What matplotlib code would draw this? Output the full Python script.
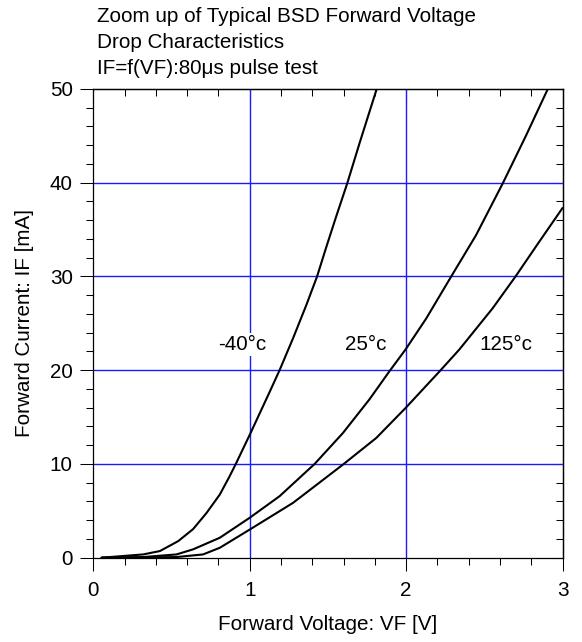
import matplotlib
matplotlib.use("Agg")
import matplotlib.pyplot as plt
from matplotlib.ticker import MultipleLocator

plt.rcParams['font.family'] = ['Liberation Sans', 'DejaVu Sans']

# Data (VF in V, IF in mA)
vf_m40 = [0.053, 0.319, 0.426, 0.543, 0.638, 0.723, 0.809, 0.872, 0.911, 1.0, 1.064, 1.128,
          1.191, 1.277, 1.362, 1.43, 1.489, 1.553, 1.623, 1.702, 1.812]
if_m40 = [0.0, 0.35, 0.71, 1.77, 3.05, 4.75, 6.74, 8.7, 10.0, 13.1, 15.4, 17.7,
          20.0, 23.4, 26.95, 29.96, 33.1, 36.4, 39.9, 44.2, 50.0]

vf_25 = [0.053, 0.319, 0.532, 0.638, 0.809, 1.0, 1.191, 1.415, 1.596, 1.766, 1.894, 1.996,
         2.128, 2.287, 2.447, 2.617, 2.766, 2.906]
if_25 = [0.0, 0.07, 0.35, 0.89, 2.13, 4.26, 6.56, 10.0, 13.3, 16.9, 19.9, 22.2,
         25.5, 29.96, 34.4, 39.9, 45.0, 50.0]

vf_125 = [0.053, 0.532, 0.702, 0.809, 1.0, 1.277, 1.596, 1.809, 1.996, 2.213, 2.34, 2.553,
          2.698, 2.851, 3.0]
if_125 = [0.0, 0.07, 0.35, 1.06, 3.0, 5.85, 9.93, 12.77, 15.96, 19.86, 22.2, 26.6,
          29.96, 33.7, 37.3]

labels = ['-40°c', '25°c', '125°c']
label_x = [0.953, 1.74, 2.638]
label_y = [22.7, 22.7, 22.7]

x_ticks = [0, 1, 2, 3]
y_ticks = [0, 10, 20, 30, 40, 50]

title_lines = ['Zoom up of Typical BSD Forward Voltage',
               'Drop Characteristics',
               'IF=f(VF):80\u03bcs pulse test']

fig = plt.figure(figsize=(5.82, 6.42), dpi=100)
ax = fig.add_axes([0.1603, 0.1313, 0.8062, 0.7301])

ax.set_xlim(0, 3)
ax.set_ylim(0, 50)

# grid
for gx in [1, 2]:
    ax.axvline(gx, color='#1a1aff', lw=1.0, zorder=1)
for gy in [10, 20, 30, 40]:
    ax.axhline(gy, color='#1a1aff', lw=1.0, zorder=1)

for vx, iy in [(vf_m40, if_m40), (vf_25, if_25), (vf_125, if_125)]:
    ax.plot(vx, iy, color='black', lw=1.5, zorder=3, clip_on=True,
            solid_joinstyle='round', solid_capstyle='round')

fs = 14.9
for t, lx, ly in zip(labels, label_x, label_y):
    ax.text(lx, ly, t, ha='center', va='center', fontsize=fs, zorder=2,
            bbox=dict(facecolor='white', edgecolor='none', pad=1.5))

ax.set_xticks(x_ticks)
ax.set_yticks(y_ticks)
ax.xaxis.set_minor_locator(MultipleLocator(0.2))
ax.yaxis.set_minor_locator(MultipleLocator(2))
ax.tick_params(which='major', direction='out', length=9.4, width=0.75, labelsize=fs, top=False, right=False)
ax.tick_params(which='minor', direction='out', length=4.7, width=0.75, top=False, right=False)
ax.tick_params(axis='x', which='major', pad=7.5)
ax.tick_params(axis='y', which='major', pad=5.5)

for s in ax.spines.values():
    s.set_linewidth(0.9)

secx = ax.secondary_xaxis('top')
secx.set_xticks(x_ticks)
secx.xaxis.set_minor_locator(MultipleLocator(0.2))
secx.tick_params(which='major', direction='in', length=9.4, width=0.75, labeltop=False)
secx.tick_params(which='minor', direction='in', length=4.7, width=0.75)
secx.spines['top'].set_linewidth(0.9)

secy = ax.secondary_yaxis('right')
secy.set_yticks(y_ticks)
secy.yaxis.set_minor_locator(MultipleLocator(2))
secy.tick_params(which='major', direction='in', length=9.4, width=0.75, labelright=False)
secy.tick_params(which='minor', direction='in', length=4.7, width=0.75)
secy.spines['right'].set_linewidth(0.9)

ax.set_xlabel('Forward Voltage: VF [V]', fontsize=fs, labelpad=11)
ax.set_ylabel('Forward Current: IF [mA]', fontsize=fs, labelpad=11)

for i, line in enumerate(title_lines):
    fig.text(97 / 582, 1 - (17 + 25.8 * i) / 642, line, ha='left', va='center', fontsize=fs)

fig.savefig('out.png', dpi=100)
